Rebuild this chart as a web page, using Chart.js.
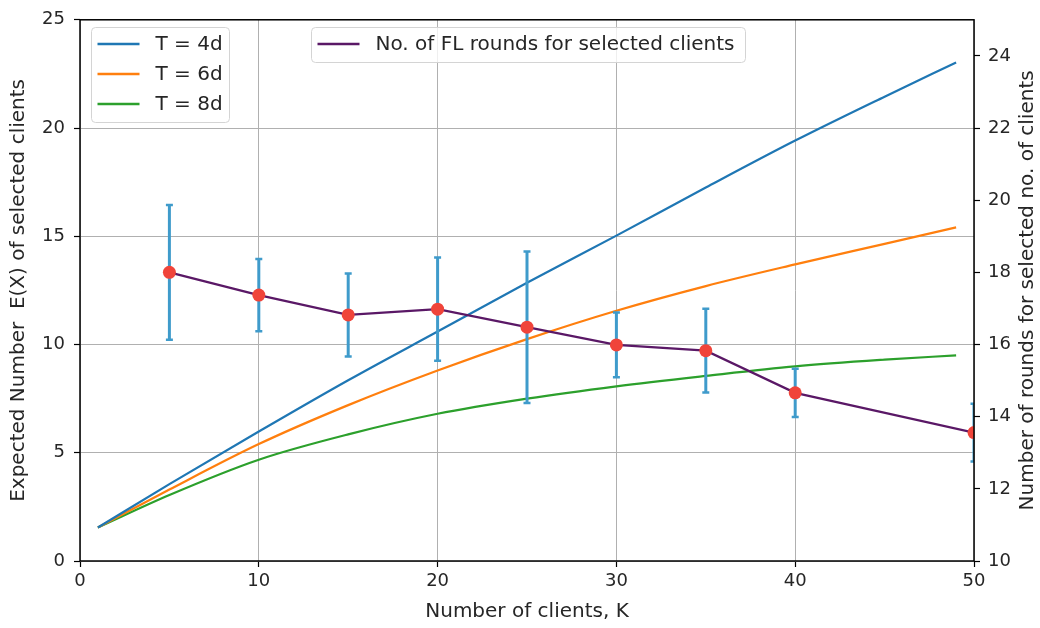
<!DOCTYPE html>
<html>
<head>
<meta charset="utf-8">
<script src="https://cdn.jsdelivr.net/npm/chart.js"></script>
<style>
  body { margin: 0; background: #fff; }
  #wrap { width: 1040px; height: 628px; position: relative; }
</style>
</head>
<body>
<div id="wrap"><canvas id="chart"></canvas></div>
<script>
// expected number of selected clients
var kValues = [1, 5, 10, 15, 20, 25, 30, 35, 40, 45, 49];
var t4 = [1.55, 3.55, 5.98, 8.35, 10.6, 12.85, 15.03, 17.25, 19.42, 21.45, 23.03];
var t6 = [1.55, 3.3, 5.4, 7.2, 8.8, 10.25, 11.56, 12.7, 13.7, 14.65, 15.41];
var t8 = [1.55, 3.05, 4.68, 5.85, 6.8, 7.5, 8.07, 8.55, 8.99, 9.3, 9.5];

// FL rounds (right axis) with error bars
var roundK = [5, 10, 15, 20, 25, 30, 35, 40, 50];
var rounds = [18.0, 17.37, 16.82, 16.98, 16.48, 15.99, 15.83, 14.66, 13.56];
var roundsErr = [1.87, 1.0, 1.15, 1.43, 2.1, 0.9, 1.16, 0.67, 0.8];

var xTicks = [0, 10, 20, 30, 40, 50];
var leftTicks = [0, 5, 10, 15, 20, 25];
var rightTicks = [10, 12, 14, 16, 18, 20, 22, 24];

var FONT = "'DejaVu Sans', sans-serif";
var TEXT = "#262626";

function pts(xs, ys) {
	return xs.map(function (x, i) { return { x: x, y: ys[i] }; });
}

function setTicks(list) {
	return function (scale) {
		scale.ticks = list.map(function (v) { return { value: v }; });
	};
}

// error bars for the rounds series, drawn just before it
var errorBars = {
	id: "errorBars",
	beforeDatasetDraw: function (chart, args) {
		if (args.index !== 3) return;
		var ctx = chart.ctx, xs = chart.scales.x, ys = chart.scales.y1, a = chart.chartArea;
		ctx.save();
		ctx.beginPath();
		ctx.rect(a.left, a.top, a.right - a.left, a.bottom - a.top);
		ctx.clip();
		ctx.strokeStyle = "#3f9bcb";
		roundK.forEach(function (k, i) {
			var px = xs.getPixelForValue(k);
			var top = ys.getPixelForValue(rounds[i] + roundsErr[i]);
			var bot = ys.getPixelForValue(rounds[i] - roundsErr[i]);
			ctx.lineWidth = 3;
			ctx.beginPath();
			ctx.moveTo(px, top);
			ctx.lineTo(px, bot);
			ctx.stroke();
			ctx.lineWidth = 2.5;
			ctx.beginPath();
			ctx.moveTo(px - 3.5, top);
			ctx.lineTo(px + 3.5, top);
			ctx.moveTo(px - 3.5, bot);
			ctx.lineTo(px + 3.5, bot);
			ctx.stroke();
		});
		ctx.restore();
	},
	afterDatasetsDraw: function (chart) {
		var ctx = chart.ctx, a = chart.chartArea;
		ctx.save();
		ctx.strokeStyle = "#000";
		ctx.lineWidth = 1.5;
		ctx.strokeRect(a.left, a.top, a.right - a.left, a.bottom - a.top);
		ctx.restore();
	}
};

// two matplotlib style legend boxes inside the plot
function legendBox(ctx, x, y, w, h, items) {
	ctx.save();
	ctx.fillStyle = "rgba(255,255,255,0.8)";
	ctx.strokeStyle = "#d4d4d4";
	ctx.lineWidth = 1;
	ctx.beginPath();
	ctx.roundRect(x, y, w, h, 4);
	ctx.fill();
	ctx.stroke();
	ctx.font = "20px " + FONT;
	ctx.textBaseline = "middle";
	items.forEach(function (it, i) {
		var ly = y + 16.5 + i * 30;
		ctx.strokeStyle = it.color;
		ctx.lineWidth = 2.5;
		ctx.beginPath();
		ctx.moveTo(x + 6, ly);
		ctx.lineTo(x + 48, ly);
		ctx.stroke();
		ctx.fillStyle = TEXT;
		ctx.fillText(it.label, x + 64, ly + 1);
	});
	ctx.restore();
}

var legends = {
	id: "legends",
	afterDraw: function (chart) {
		var d = chart.data.datasets;
		var item = function (ds) { return { label: ds.label, color: ds.borderColor }; };
		legendBox(chart.ctx, 91.5, 27.5, 138, 95, [item(d[0]), item(d[1]), item(d[2])]);
		legendBox(chart.ctx, 311.5, 27.5, 434, 35, [item(d[3])]);

		// right axis title reads bottom to top, like matplotlib
		var ctx = chart.ctx, a = chart.chartArea;
		ctx.save();
		ctx.translate(1028, (a.top + a.bottom) / 2);
		ctx.rotate(-Math.PI / 2);
		ctx.font = "20px " + FONT;
		ctx.fillStyle = TEXT;
		ctx.textAlign = "center";
		ctx.textBaseline = "middle";
		ctx.fillText(rightTitle, 0, 0);
		ctx.restore();
	}
};

var rightTitle = "Number of rounds for selected no. of clients";

new Chart(document.getElementById("chart"), {
	type: "line",
	data: {
		datasets: [
			{ label: "T = 4d", data: pts(kValues, t4), borderColor: "#1f77b4", yAxisID: "y", order: 1 },
			{ label: "T = 6d", data: pts(kValues, t6), borderColor: "#ff7f0e", yAxisID: "y", order: 1 },
			{ label: "T = 8d", data: pts(kValues, t8), borderColor: "#2ca02c", yAxisID: "y", order: 1 },
			{
				label: "No. of FL rounds for selected clients",
				data: pts(roundK, rounds),
				borderColor: "#5a1866",
				yAxisID: "y1",
				order: 0,
				tension: 0,
				cubicInterpolationMode: "default",
				pointRadius: 6.5,
				pointBackgroundColor: "#f0443a",
				pointBorderWidth: 0
			}
		]
	},
	options: {
		responsive: true,
		maintainAspectRatio: false,
		animation: false,
		layout: { padding: { top: 16, left: 0, right: 0, bottom: 0 } },
		elements: {
			line: { borderWidth: 2.2, cubicInterpolationMode: "monotone", fill: false },
			point: { radius: 0 }
		},
		plugins: { legend: { display: false }, tooltip: { enabled: false } },
		scales: {
			x: {
				type: "linear",
				min: 0,
				max: 50,
				afterBuildTicks: setTicks(xTicks),
				afterFit: function (s) { s.height = 67; },
				border: { display: false },
				grid: { color: "#b0b0b0", lineWidth: 1, tickColor: "#000", tickLength: 6, tickWidth: 1.2 },
				ticks: { color: TEXT, font: { family: FONT, size: 18 }, padding: 4, maxRotation: 0 },
				title: { display: true, text: "Number of clients, K", color: TEXT, font: { family: FONT, size: 20 }, padding: { top: 0, bottom: 4 } }
			},
			y: {
				position: "left",
				min: 0,
				max: 25,
				afterBuildTicks: setTicks(leftTicks),
				afterFit: function (s) { s.width = 80; },
				border: { display: false },
				grid: { color: "#b0b0b0", lineWidth: 1, tickColor: "#000", tickLength: 6, tickWidth: 1.2 },
				ticks: { color: TEXT, font: { family: FONT, size: 18 }, padding: 9 },
				title: { display: true, text: "Expected Number  E(X) of selected clients", color: TEXT, font: { family: FONT, size: 20 }, padding: { top: 7, bottom: 0 } }
			},
			y1: {
				position: "right",
				min: 10,
				max: 25,
				afterBuildTicks: setTicks(rightTicks),
				afterFit: function (s) { s.width = 66; },
				border: { display: false },
				grid: { drawOnChartArea: false, color: "#000", tickColor: "#000", tickLength: 6, tickWidth: 1.2 },
				ticks: { color: TEXT, font: { family: FONT, size: 18 }, padding: 8 },
				title: { display: false }
			}
		}
	},
	plugins: [errorBars, legends]
});
</script>
</body>
</html>
